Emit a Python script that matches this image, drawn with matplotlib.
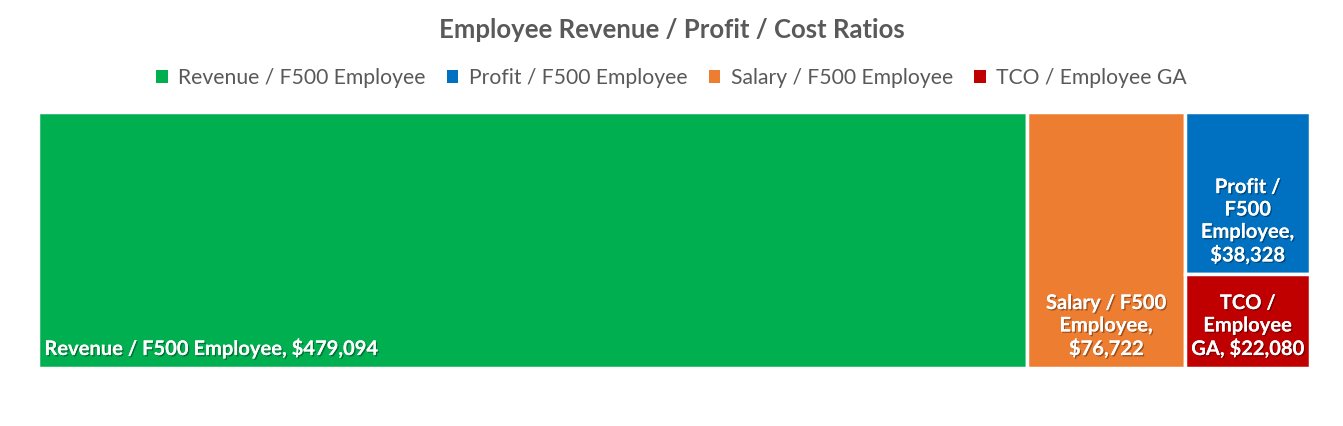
import matplotlib.pyplot as plt
import matplotlib.patheffects as pe
from matplotlib.patches import Rectangle

plt.rcParams['font.family'] = ['Lato', 'DejaVu Sans']

names = ['Revenue / F500 Employee', 'Profit / F500 Employee',
         'Salary / F500 Employee', 'TCO / Employee GA']
values = [479094, 38328, 76722, 22080]
colors = ['#00B050', '#0070C0', '#ED7D31', '#C00000']
# text shown in each tile (wrapped like the original)
labels = ['Revenue / F500 Employee, $479,094',
          'Profit /\nF500\nEmployee,\n$38,328',
          'Salary / F500\nEmployee,\n$76,722',
          'TCO /\nEmployee\nGA, $22,080']

fig = plt.figure(figsize=(13.43, 4.26), dpi=100)
ax = fig.add_axes([38/1343, (426-368)/426, 1272/1343, 256/426])
ax.set_xlim(0, 1)
ax.set_ylim(0, 1)
ax.axis('off')

total = sum(values)
rev, prof, sal, tco = values
# slice: revenue, salary as columns, then profit over tco in the last column
w_rev = rev / total
w_sal = sal / total
w_last = (prof + tco) / total
h_prof = prof / (prof + tco)
tiles = {
    0: (0, 0, w_rev, 1),
    2: (w_rev, 0, w_sal, 1),
    1: (w_rev + w_sal, 1 - h_prof, w_last, h_prof),
    3: (w_rev + w_sal, 0, w_last, 1 - h_prof),
}

shadow = [pe.withSimplePatchShadow(offset=(1, -1), shadow_rgbFace='black', alpha=0.35), pe.Normal()]
for i, (x, y, w, h) in tiles.items():
    ax.add_patch(Rectangle((x, y), w, h, facecolor=colors[i], edgecolor='white', linewidth=2.5))
    if i == 0:
        ax.text(x + 0.005, y + 0.035, labels[i], color='white', fontsize=14.5, fontweight='bold',
                ha='left', va='bottom', path_effects=shadow)
    else:
        ax.text(x + w / 2, y + 0.035, labels[i], color='white', fontsize=14.5, fontweight='bold',
                ha='center', va='bottom', linespacing=1.15, path_effects=shadow)

fig.text(0.5, 1 - 30/426, 'Employee Revenue / Profit / Cost Ratios', ha='center', va='center',
         fontsize=18.5, fontweight='bold', color='#595959')

handles = [Rectangle((0, 0), 1, 1, facecolor=c) for c in colors]
fig.legend(handles, names, loc='center', bbox_to_anchor=(0.5, 1 - 78/426), ncol=4, frameon=False,
           fontsize=15.2, handlelength=0.55, handleheight=0.55, handletextpad=0.5, columnspacing=1.0,
           labelcolor='#595959')

fig.savefig('out.png', dpi=100)
